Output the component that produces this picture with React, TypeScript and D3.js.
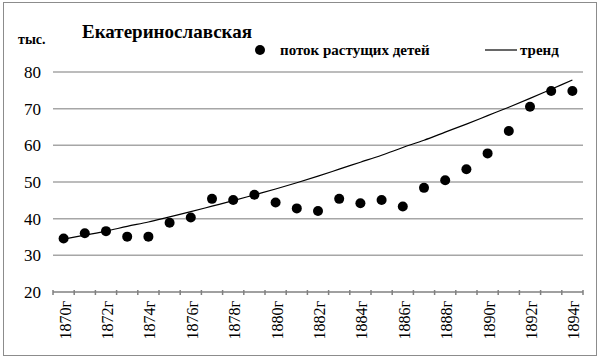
import React, { useEffect, useRef } from "react";
import * as d3 from "d3";

const years = [1870,1871,1872,1873,1874,1875,1876,1877,1878,1879,1880,1881,1882,1883,1884,1885,1886,1887,1888,1889,1890,1891,1892,1893,1894];
const values = [34.6,36.0,36.6,35.1,35.1,38.9,40.3,45.4,45.1,46.5,44.4,42.8,42.1,45.4,44.2,45.1,43.3,48.4,50.5,53.5,57.8,63.9,70.5,74.8,74.8];
const trend = [34.4,35.5,36.6,37.9,39.1,40.5,41.9,43.4,44.9,46.5,48.1,49.8,51.6,53.5,55.4,57.3,59.4,61.4,63.6,65.8,68.1,70.4,72.8,75.3,77.8];
const yTicks = [20,30,40,50,60,70,80];
const xLabelYears = [1870,1872,1874,1876,1878,1880,1882,1884,1886,1888,1890,1892,1894];

const SERIF = { fontFamily: "Liberation Serif" };
const CSS = `svg.chart text { font-family: "Liberation Serif", "Times New Roman", serif !important; }`;

export default function App() {
  const ref = useRef<SVGSVGElement>(null);
  const W = 600, H = 358;
  const left = 53, right = 583, top = 72, bottom = 292;
  const x = d3.scaleBand<number>().domain(years).range([left, right]);
  const y = d3.scaleLinear().domain([20, 80]).range([bottom, top]);
  const cx = (yr: number) => (x(yr) as number) + x.bandwidth() / 2;
  const line = d3.line<number>()
    .x((_, i) => cx(years[i]))
    .y((d) => y(d))
    .curve(d3.curveMonotoneX);
  const boundaries = years.map((yr) => x(yr) as number).concat([right]);

  useEffect(() => {
    if (!ref.current) return;
    d3.select(ref.current).selectAll<SVGTextElement, unknown>("text").each(function () {
      this.setAttribute("font-family", "Liberation Serif");
      this.style.setProperty("font-family", "Liberation Serif", "important");
    });
  }, []);

  return (
    <svg ref={ref} className="chart" width={W} height={H} style={{ position: "absolute", left: 0, top: 0, fontFamily: "Liberation Serif" }}>
      <style>{CSS}</style>
      <rect x={0} y={0} width={W} height={H} fill="#fff" />
      <rect x={3.5} y={2.5} width={593} height={353} fill="none" stroke="#8c8c8c" strokeWidth={1} />
      {yTicks.map((t) => (
        <g key={t}>
          {t !== 20 && (
            <line x1={left} x2={right} y1={y(t)} y2={y(t)} stroke="#a6a6a6" strokeWidth={1.5} />
          )}
          <text x={41} y={y(t) + 6} textAnchor="end" fontSize={17} style={SERIF}>{t}</text>
        </g>
      ))}
      <line x1={left} x2={right} y1={bottom} y2={bottom} stroke="#808080" strokeWidth={1.5} />
      {boundaries.map((b, i) => (
        <line key={i} x1={b} x2={b} y1={bottom - 2} y2={bottom + 3} stroke="#808080" strokeWidth={1.5} />
      ))}
      {xLabelYears.map((yr) => (
        <text key={yr} transform={`translate(${cx(yr) + 7},${301}) rotate(-90)`} textAnchor="end" fontSize={16} style={SERIF}>{yr}г</text>
      ))}
      <path d={line(trend) || ""} fill="none" stroke="#000" strokeWidth={1.2} />
      {values.map((v, i) => (
        <circle key={i} cx={cx(years[i])} cy={y(v)} r={5} fill="#000" />
      ))}
      <text x={82} y={38} fontSize={19} fontWeight="bold" style={SERIF}>Екатеринославская</text>
      <text x={18} y={44} fontSize={14} fontWeight="bold" style={SERIF}>тыс.</text>
      <circle cx={260} cy={50} r={5} fill="#000" />
      <text x={280} y={55} fontSize={15} fontWeight="bold" style={SERIF}>поток растущих детей</text>
      <line x1={485} x2={517} y1={50} y2={50} stroke="#000" strokeWidth={1.2} />
      <text x={520} y={55} fontSize={15} fontWeight="bold" style={SERIF}>тренд</text>
    </svg>
  );
}
